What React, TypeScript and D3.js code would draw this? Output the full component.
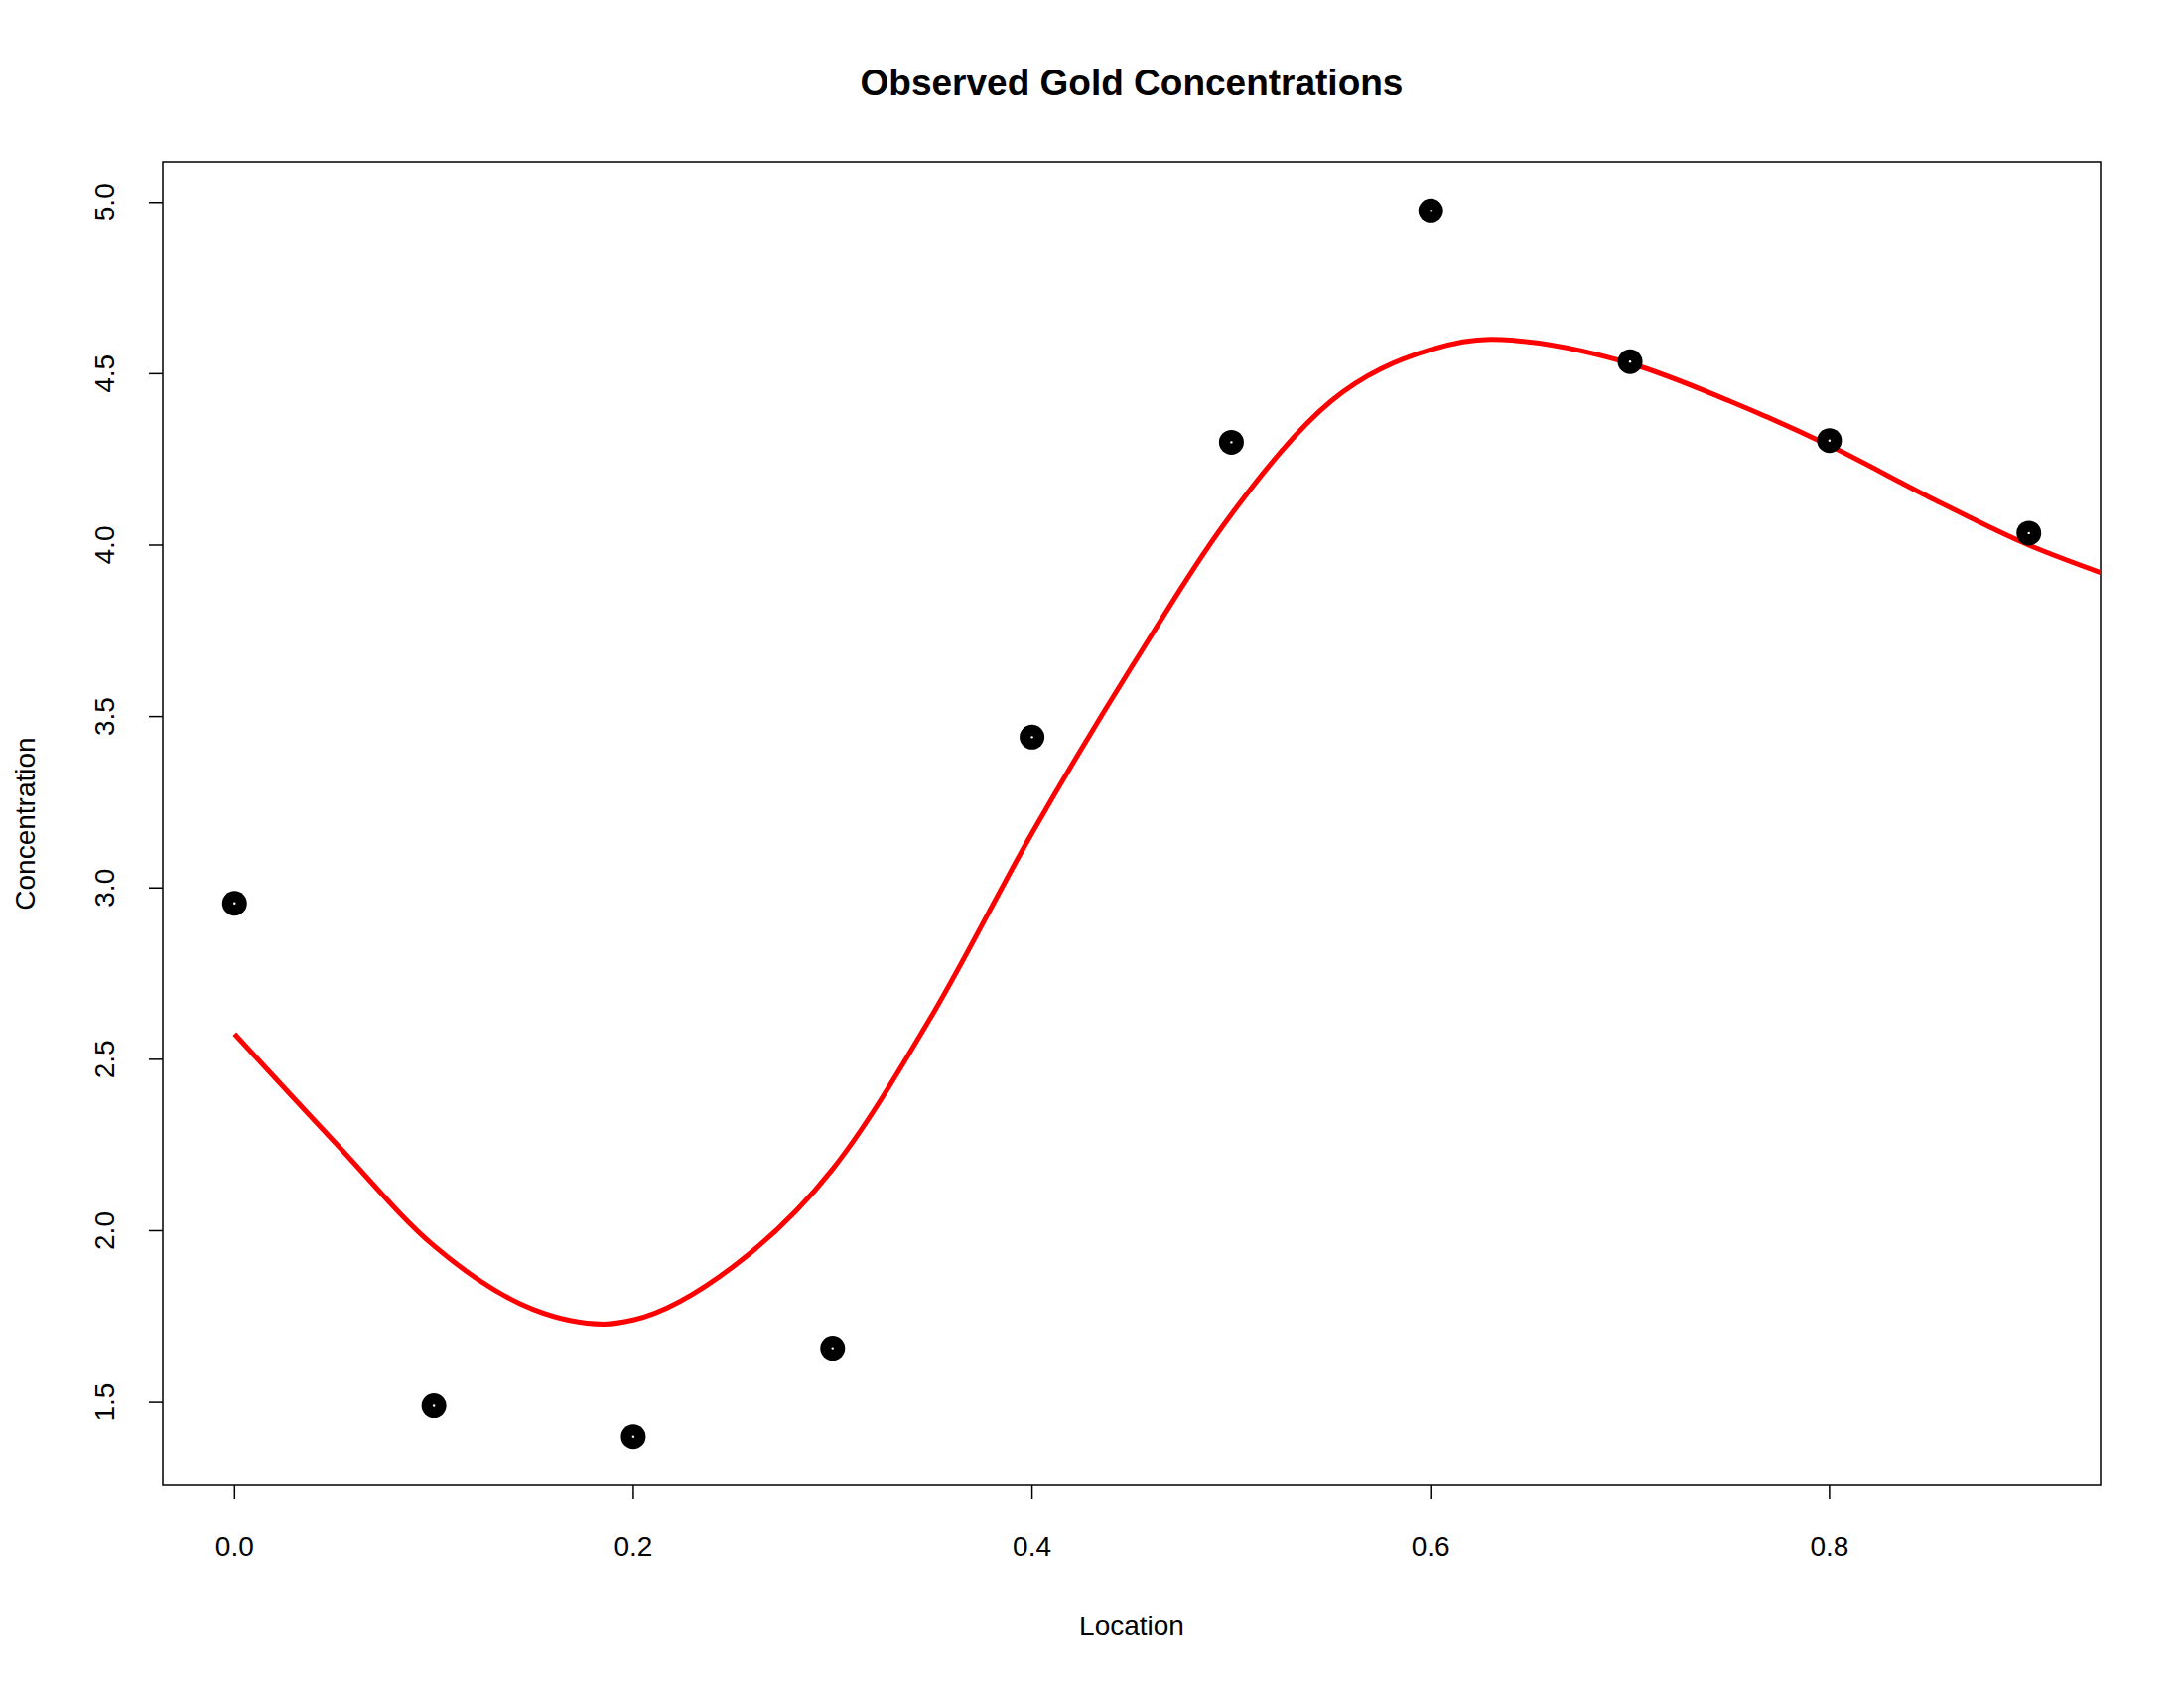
import * as d3 from 'd3'
import React from 'react'

const locations = [0, 0.1, 0.2, 0.3, 0.4, 0.5, 0.6, 0.7, 0.8, 0.9]
const concentrations = [2.955, 1.49, 1.4, 1.655, 3.44, 4.3, 4.975, 4.535, 4.305, 4.035]

const fitX = [0, 0.05, 0.1, 0.15, 0.185, 0.2, 0.25, 0.3, 0.35, 0.4, 0.45, 0.5, 0.55, 0.6, 0.63, 0.7, 0.75, 0.8, 0.85, 0.9, 0.936]
const fitY = [2.574, 2.26, 1.956, 1.77, 1.728, 1.74, 1.895, 2.18, 2.63, 3.16, 3.645, 4.09, 4.42, 4.57, 4.60, 4.53, 4.42, 4.29, 4.14, 4.0, 3.92]

const xTicks = [0, 0.2, 0.4, 0.6, 0.8]
const yTicks = [1.5, 2, 2.5, 3, 3.5, 4, 4.5, 5]

const W = 2200, H = 1700
const L = 164, R = 2116, T = 163, B = 1496

const App = () => {
  const x = d3.scaleLinear().domain([-0.036, 0.936]).range([L, R])
  const y = d3.scaleLinear().domain([1.257, 5.118]).range([B, T])
  const line = d3.line<number>()
    .x((d, i) => x(fitX[i]))
    .y(d => y(d))
    .curve(d3.curveMonotoneX)
  const font = 'Liberation Sans, Arial, sans-serif'
  return (
    <svg width={W} height={H} style={{ display: 'block', margin: -8 }} fontFamily={font}>
      <rect width={W} height={H} fill="white" />
      <text x={(L + R) / 2} y={96} textAnchor="middle" fontSize={37} fontWeight="bold">Observed Gold Concentrations</text>
      <rect x={L} y={T} width={R - L} height={B - T} fill="none" stroke="black" strokeWidth={1.5} />
      <defs>
        <clipPath id="c"><rect x={L} y={T} width={R - L} height={B - T} /></clipPath>
      </defs>
      {xTicks.map(t => (
        <g key={t}>
          <line x1={x(t)} x2={x(t)} y1={B} y2={B + 14} stroke="black" strokeWidth={1.5} />
          <text x={x(t)} y={1567} textAnchor="middle" fontSize={28}>{t.toFixed(1)}</text>
        </g>
      ))}
      {yTicks.map(t => (
        <g key={t}>
          <line x1={L - 14} x2={L} y1={y(t)} y2={y(t)} stroke="black" strokeWidth={1.5} />
          <text transform={`translate(115,${y(t)}) rotate(-90)`} textAnchor="middle" fontSize={28}>{t.toFixed(1)}</text>
        </g>
      ))}
      <text x={(L + R) / 2} y={1647} textAnchor="middle" fontSize={28}>Location</text>
      <text transform={`translate(35,${(T + B) / 2}) rotate(-90)`} textAnchor="middle" fontSize={28}>Concentration</text>
      <path d={line(fitY) || ''} fill="none" stroke="red" strokeWidth={5} clipPath="url(#c)" />
      {locations.map((l, i) => (
        <g key={l}>
          <circle cx={x(l)} cy={y(concentrations[i])} r={12.5} fill="black" />
          <circle cx={x(l)} cy={y(concentrations[i])} r={1.2} fill="white" />
        </g>
      ))}
    </svg>
  )
}

export default App
